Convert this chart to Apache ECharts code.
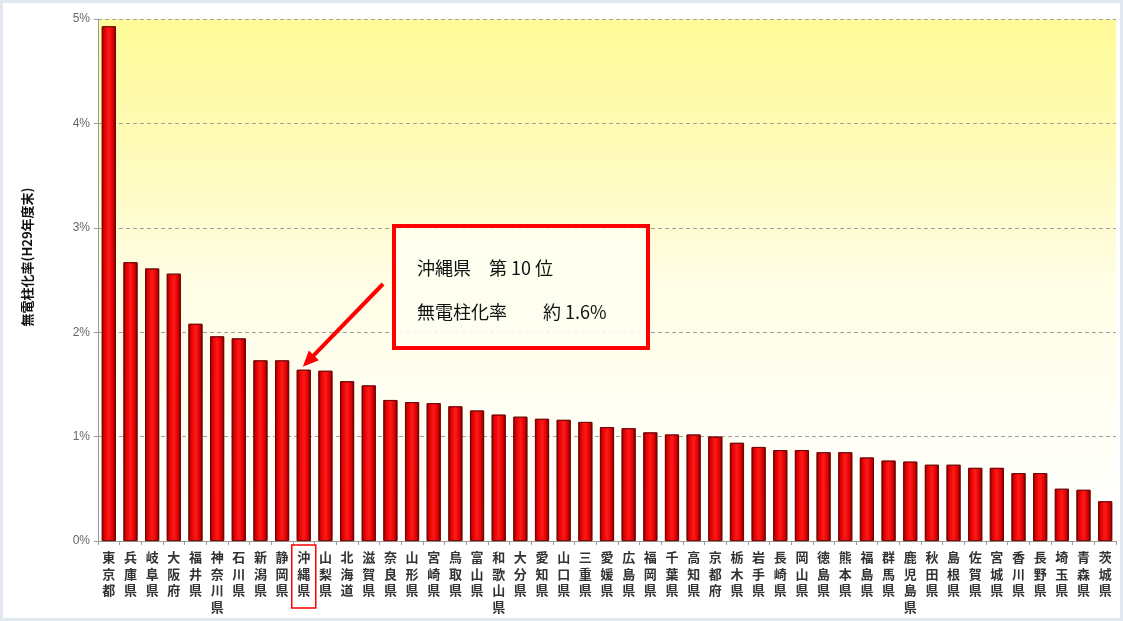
<!DOCTYPE html>
<html>
<head>
<meta charset="utf-8">
<script src="https://cdn.jsdelivr.net/npm/echarts@6/dist/echarts.min.js"></script>
<style>
  html, body { margin: 0; padding: 0; background: #ffffff; }
  #chart { width: 1123px; height: 621px; }
</style>
</head>
<body>
<div id="chart"></div>
<script>
// 都道府県別 無電柱化率（H29年度末）
const prefectures = [
  '東京都', '兵庫県', '岐阜県', '大阪府', '福井県', '神奈川県', '石川県', '新潟県', '静岡県', '沖縄県',
  '山梨県', '北海道', '滋賀県', '奈良県', '山形県', '宮崎県', '鳥取県', '富山県', '和歌山県', '大分県',
  '愛知県', '山口県', '三重県', '愛媛県', '広島県', '福岡県', '千葉県', '高知県', '京都府', '栃木県',
  '岩手県', '長崎県', '岡山県', '徳島県', '熊本県', '福島県', '群馬県', '鹿児島県', '秋田県', '島根県',
  '佐賀県', '宮城県', '香川県', '長野県', '埼玉県', '青森県', '茨城県'
];

// 無電柱化率 (%)
const rates = [
  4.93, 2.67, 2.61, 2.56, 2.08, 1.96, 1.94, 1.73, 1.73, 1.64,
  1.63, 1.53, 1.49, 1.35, 1.33, 1.32, 1.29, 1.25, 1.21, 1.19,
  1.17, 1.16, 1.14, 1.09, 1.08, 1.04, 1.02, 1.02, 1.00, 0.94,
  0.90, 0.87, 0.87, 0.85, 0.85, 0.80, 0.77, 0.76, 0.73, 0.73,
  0.70, 0.70, 0.65, 0.65, 0.50, 0.49, 0.38
];

const yTicks = [0, 1, 2, 3, 4, 5];
const yAxisTitle = '無電柱化率(H29年度末)';
const highlightPref = '沖縄県';
const highlightLabel = '無電柱化率';

const chart = echarts.init(document.getElementById('chart'), null, { renderer: 'canvas' });

const barGradient = new echarts.graphic.LinearGradient(0, 0, 1, 0, [
  { offset: 0, color: '#8a0000' },
  { offset: 0.18, color: '#e00000' },
  { offset: 0.5, color: '#ff1a1a' },
  { offset: 0.8, color: '#dd0000' },
  { offset: 1, color: '#6a0000' }
]);

const plotGradient = new echarts.graphic.LinearGradient(0, 0, 0, 1, [
  { offset: 0, color: '#fffb98' },
  { offset: 0.22, color: '#fffbb4' },
  { offset: 0.5, color: '#fffde4' },
  { offset: 0.8, color: '#fffff6' },
  { offset: 1, color: '#ffffff' }
]);

chart.setOption({
  backgroundColor: '#ffffff',
  animation: false,
  grid: {
    left: 98, right: 7, top: 19, bottom: 80,
    show: true,
    backgroundColor: plotGradient,
    borderWidth: 0
  },
  xAxis: {
    type: 'category',
    data: prefectures,
    boundaryGap: true,
    axisLine: { lineStyle: { color: '#9a9a9a', width: 1 } },
    axisTick: { show: true, length: 4, lineStyle: { color: '#9a9a9a' } },
    axisLabel: {
      interval: 0,
      margin: 8,
      fontFamily: 'Noto Sans CJK JP',
      fontSize: 13,
      fontWeight: 'bold',
      color: '#333333',
      lineHeight: 16.5,
      formatter: v => v.split('').join('\n')
    }
  },
  yAxis: {
    type: 'value',
    min: 0, max: 5, interval: 1,
    axisLine: { show: true, lineStyle: { color: '#9a9a9a' } },
    axisTick: { show: true, length: 4, lineStyle: { color: '#9a9a9a' } },
    axisLabel: {
      margin: 8,
      fontFamily: 'Liberation Sans',
      fontSize: 12,
      color: '#666666',
      formatter: v => yTicks.includes(v) ? v + '%' : ''
    },
    splitLine: { show: true, lineStyle: { color: '#a0a0a0', type: [4, 3], width: 1 } }
  },
  series: [{
    type: 'bar',
    data: rates,
    barWidth: 14,
    itemStyle: { color: barGradient, borderColor: '#6a0000', borderWidth: 0.8 }
  }]
});

// 注記（沖縄県の順位と値）
const idx = prefectures.indexOf(highlightPref);
const tip = chart.convertToPixel({ seriesIndex: 0 }, [idx, rates[idx]]);
const labelCenter = chart.convertToPixel({ xAxisIndex: 0 }, idx);

const tipX = tip[0] - 1, tipY = tip[1] - 3;
const startX = 383, startY = 284;
const ang = Math.atan2(tipY - startY, tipX - startX);
const headLen = 16, headHalf = 7;
const baseX = tipX - headLen * Math.cos(ang), baseY = tipY - headLen * Math.sin(ang);
const px = -Math.sin(ang), py = Math.cos(ang);

chart.setOption({
  graphic: [
    // 外枠
    {
      type: 'rect', silent: true, z: 0,
      shape: { x: 0.5, y: 0.5, width: 1122, height: 620 },
      style: { fill: null, stroke: '#e2e8f2', lineWidth: 5 }
    },
    // Y軸タイトル
    {
      type: 'text', silent: true,
      x: 27, y: 257, rotation: Math.PI / 2,
      style: {
        text: yAxisTitle,
        fontFamily: 'Noto Sans CJK JP', fontSize: 13, fontWeight: 'bold',
        fill: '#111111', align: 'center', verticalAlign: 'middle'
      }
    },
    // 注記ボックス
    {
      type: 'rect', silent: true, z: 10,
      shape: { x: 394, y: 226, width: 254, height: 122 },
      style: { fill: 'rgba(255,255,242,0.85)', stroke: '#ff0000', lineWidth: 4 }
    },
    {
      type: 'text', silent: true, z: 11,
      x: 417, y: 268,
      style: {
        text: highlightPref + '　第 ' + (idx + 1) + ' 位',
        fontFamily: 'Noto Sans CJK JP', fontSize: 18, fill: '#111111',
        align: 'left', verticalAlign: 'middle'
      }
    },
    {
      type: 'text', silent: true, z: 11,
      x: 417, y: 312,
      style: {
        text: highlightLabel + '　　約 ' + rates[idx].toFixed(1) + '%',
        fontFamily: 'Noto Sans CJK JP', fontSize: 18, fill: '#111111',
        align: 'left', verticalAlign: 'middle'
      }
    },
    // 矢印
    {
      type: 'line', silent: true, z: 11,
      shape: { x1: startX, y1: startY, x2: baseX + 2 * Math.cos(ang), y2: baseY + 2 * Math.sin(ang) },
      style: { stroke: '#ff0000', lineWidth: 4 }
    },
    {
      type: 'polygon', silent: true, z: 11,
      shape: { points: [[tipX, tipY], [baseX + px * headHalf, baseY + py * headHalf], [baseX - px * headHalf, baseY - py * headHalf]] },
      style: { fill: '#ff0000' }
    },
    // 沖縄県ラベルの枠
    {
      type: 'rect', silent: true, z: 11,
      shape: { x: labelCenter - 12, y: 545, width: 24, height: 63 },
      style: { fill: null, stroke: '#ff0000', lineWidth: 1.5 }
    }
  ]
});
</script>
</body>
</html>
